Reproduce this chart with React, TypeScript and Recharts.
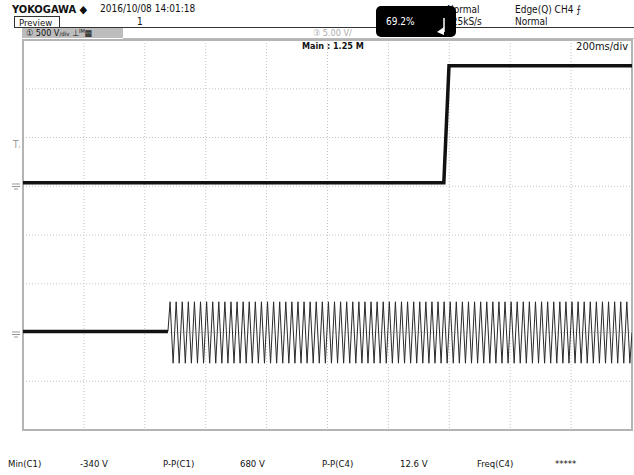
import React from 'react';
import { LineChart, Line, XAxis, YAxis, CartesianGrid, ReferenceArea } from 'recharts';

// screen is 10 div x 200 ms, 8 div tall; values below are in divisions from centre
const timeTicks = [0, 200, 400, 600, 800, 1000, 1200, 1400, 1600, 1800, 2000];
const divTicks = [-4, -3, -2, -1, 0, 1, 2, 3, 4];

// CH1: step trace
const c1Times = [0, 1382, 1399, 2000];
const c1Levels = [1.07, 1.07, 3.47, 3.47];

// CH4: idle level, then 50 Hz burst (peak / trough values read per half cycle)
const c4IdleTimes = [0, 476];
const c4IdleLevels = [-1.98, -1.98];
const c4Onset = 476;
const c4FirstPeak = 483;
const c4HalfPeriod = 10;
const c4Peaks = [
  -1.37, -2.63, -1.37, -2.63, -1.37, -2.63, -1.37, -2.63,
  -1.37, -2.63, -1.37, -2.63, -1.37, -2.63, -1.37, -2.63,
  -1.37, -2.63, -1.37, -2.63, -1.37, -2.63, -1.37, -2.63,
  -1.37, -2.63, -1.37, -2.63, -1.37, -2.63, -1.37, -2.63,
  -1.37, -2.63, -1.37, -2.63, -1.37, -2.63, -1.37, -2.63,
  -1.37, -2.63, -1.37, -2.63, -1.37, -2.63, -1.37, -2.63,
  -1.37, -2.63, -1.37, -2.63, -1.37, -2.63, -1.37, -2.63,
  -1.37, -2.63, -1.37, -2.63, -1.37, -2.63, -1.37, -2.63,
  -1.37, -2.63, -1.37, -2.63, -1.37, -2.63, -1.37, -2.63,
  -1.37, -2.63, -1.37, -2.63, -1.37, -2.63, -1.37, -2.63,
  -1.37, -2.63, -1.37, -2.63, -1.37, -2.63, -1.37, -2.63,
  -1.37, -2.63, -1.37, -2.63, -1.37, -2.63, -1.37, -2.63,
  -1.37, -2.63, -1.37, -2.63, -1.37, -2.63, -1.37, -2.63,
  -1.37, -2.63, -1.37, -2.63, -1.37, -2.63, -1.37, -2.63,
  -1.37, -2.63, -1.37, -2.63, -1.37, -2.63, -1.37, -2.63,
  -1.37, -2.63, -1.37, -2.63, -1.37, -2.63, -1.37, -2.63,
  -1.37, -2.63, -1.37, -2.63, -1.37, -2.63, -1.37, -2.63,
  -1.37, -2.63, -1.37, -2.63, -1.37, -2.63, -1.37, -2.63,
  -1.37, -2.63, -1.37, -2.63, -1.37, -2.63, -1.37, -2.63,
];
const c4EndTime = 2000;
const c4EndLevel = -2.0;

// measurement row at the bottom
const measLabels = ['Min(C1)', 'P-P(C1)', 'P-P(C4)', 'Freq(C4)'];
const measValues = ['-340 V', '680 V', '12.6 V', '*****'];

const c1Data = c1Times.map((t, i) => ({ t, v: c1Levels[i] }));
const c4IdleData = c4IdleTimes.map((t, i) => ({ t, v: c4IdleLevels[i] }));
const c4WaveData = [
  { t: c4Onset, v: c4IdleLevels[1] },
  ...c4Peaks.map((v, i) => ({ t: c4FirstPeak + i * c4HalfPeriod, v })),
  { t: c4EndTime, v: c4EndLevel },
];

const FONT = "'Liberation Sans Narrow', 'DejaVu Sans Condensed', 'Arial Narrow', sans-serif";

const Txt: React.FC<{ x: number; y: number; size?: number; bold?: boolean; color?: string; children: React.ReactNode }> = ({ x, y, size = 10, bold, color = '#111', children }) => (
  <div style={{ position: 'absolute', left: x, top: y, fontSize: size, fontWeight: bold ? 700 : 400, color, lineHeight: 1, whiteSpace: 'nowrap', fontFamily: FONT }}>
    {children}
  </div>
);

const GroundMark: React.FC<{ y: number }> = ({ y }) => (
  <svg style={{ position: 'absolute', left: 11, top: y }} width={10} height={8}>
    <line x1={1} y1={1} x2={9} y2={1} stroke="#999" strokeWidth={1} />
    <line x1={1} y1={3.5} x2={9} y2={3.5} stroke="#999" strokeWidth={1} />
    <line x1={3} y1={6} x2={7} y2={6} stroke="#999" strokeWidth={1} />
  </svg>
);

export default function App() {
  const measX = [8, 80, 163, 240, 322, 400, 477, 555];
  return (
    <div style={{ position: 'absolute', left: 0, top: 0, width: 634, height: 475, background: '#fff', overflow: 'hidden' }}>
      <LineChart width={634} height={475} margin={{ top: 40, right: 2, bottom: 45, left: 23 }}>
        <CartesianGrid stroke="#c4c4c4" strokeDasharray="1 2" />
        <XAxis hide type="number" dataKey="t" domain={[0, 2000]} ticks={timeTicks} allowDataOverflow />
        <YAxis hide type="number" domain={[-4, 4]} ticks={divTicks} allowDataOverflow />
        <ReferenceArea x1={0} x2={2000} y1={-4} y2={4} fill="none" stroke="#b4b4b4" strokeWidth={2} />
        <Line data={c4WaveData} dataKey="v" stroke="#2a2a2a" strokeWidth={1} dot={false} isAnimationActive={false} type="linear" />
        <Line data={c4IdleData} dataKey="v" stroke="#111" strokeWidth={3.5} dot={false} isAnimationActive={false} type="linear" />
        <Line data={c1Data} dataKey="v" stroke="#111" strokeWidth={3.5} dot={false} isAnimationActive={false} type="linear" />
      </LineChart>

      {/* header */}
      <Txt x={12} y={4} size={11} bold>YOKOGAWA ◆</Txt>
      <Txt x={100} y={4} size={10}>2016/10/08 14:01:18</Txt>
      <div style={{ position: 'absolute', left: 14, top: 16, width: 44, height: 11, borderLeft: '1px solid #333', borderRight: '1px solid #333', borderTop: '1px solid #333' }} />
      <Txt x={19} y={17.5} size={9.5}>Preview</Txt>
      <Txt x={137} y={17} size={10}>1</Txt>
      <div style={{ position: 'absolute', left: 14, top: 27, width: 620, height: 1, background: '#333' }} />
      <div style={{ position: 'absolute', left: 22, top: 28, width: 101, height: 10, background: '#bdbdbd' }} />
      <div style={{ position: 'absolute', left: 123, top: 28, width: 511, height: 10, borderBottom: '1px solid #bbb' }} />
      <Txt x={26} y={29} size={9}>① 500 V<span style={{ fontSize: 6 }}>/div</span> ⊥ᴵᴹ▦</Txt>
      <Txt x={313} y={29} size={9} color="#aaa">③ 5.00 V/</Txt>
      <Txt x={447} y={5} size={10}>Normal</Txt>
      <Txt x={446} y={17} size={10}>125kS/s</Txt>
      <div style={{ position: 'absolute', left: 376, top: 6, width: 80, height: 31, background: '#000', borderRadius: 5 }} />
      <Txt x={386} y={17} size={10} color="#fff">69.2%</Txt>
      <svg style={{ position: 'absolute', left: 434, top: 18 }} width={14} height={18}>
        <line x1={10} y1={0} x2={10} y2={14} stroke="#fff" strokeWidth={1.5} />
        <polygon points="3,14 10,9 10,17" fill="#fff" />
      </svg>
      <Txt x={515} y={5} size={10}>Edge(Q) CH4 ⨍</Txt>
      <Txt x={515} y={17} size={10}>Normal</Txt>
      <Txt x={302} y={42} size={9} bold>Main : 1.25 M</Txt>
      <div style={{ position: 'absolute', left: 540, top: 41, width: 88, textAlign: 'right', fontSize: 11, fontFamily: FONT, color: '#111', lineHeight: 1 }}>200ms/div</div>

      {/* channel markers */}
      <Txt x={13} y={140} size={10} color="#999">T<span style={{ fontSize: 5 }}>ʟ</span></Txt>
      <GroundMark y={183} />
      <GroundMark y={331} />

      {/* measurements */}
      {measLabels.map((l, i) => (
        <React.Fragment key={l}>
          <Txt x={measX[i * 2]} y={459} size={9.5}>{l}</Txt>
          <Txt x={measX[i * 2 + 1]} y={459} size={9.5}>{measValues[i]}</Txt>
        </React.Fragment>
      ))}
    </div>
  );
}
